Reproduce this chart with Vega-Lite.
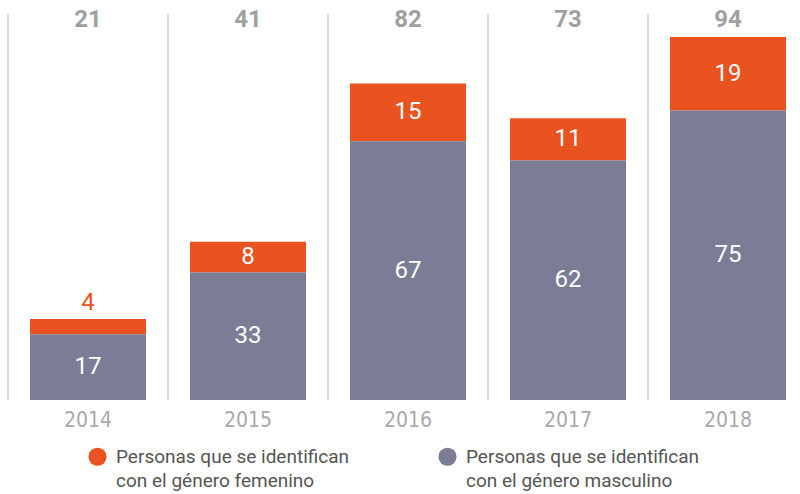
{
  "$schema": "https://vega.github.io/schema/vega-lite/v6.json",
  "width": 800,
  "height": 400,
  "autosize": "none",
  "padding": {"left": 8, "top": 0, "right": 0, "bottom": 94},
  "background": "white",
  "config": {"view": {"stroke": null}},
  "data": {
    "values": [
      {"year": "2014", "genero": "femenino", "n": 4},
      {"year": "2014", "genero": "masculino", "n": 17},
      {"year": "2015", "genero": "femenino", "n": 8},
      {"year": "2015", "genero": "masculino", "n": 33},
      {"year": "2016", "genero": "femenino", "n": 15},
      {"year": "2016", "genero": "masculino", "n": 67},
      {"year": "2017", "genero": "femenino", "n": 11},
      {"year": "2017", "genero": "masculino", "n": 62},
      {"year": "2018", "genero": "femenino", "n": 19},
      {"year": "2018", "genero": "masculino", "n": 75}
    ]
  },
  "transform": [
    {"stack": "n", "groupby": ["year"], "sort": [{"field": "genero", "order": "descending"}], "as": ["s0", "s1"]},
    {"calculate": "(datum.s0 + datum.s1) / 2", "as": "mid"}
  ],
  "encoding": {
    "x": {
      "field": "year", "type": "ordinal",
      "scale": {"paddingInner": 0, "paddingOuter": 0},
      "axis": {
        "title": null, "domain": false, "ticks": false, "labelAngle": 0,
        "labelPadding": 9, "labelFont": "DejaVu Sans Condensed, Liberation Sans Narrow, sans-serif",
        "labelFontSize": 21, "labelColor": "#aaaaaa", "labelBaseline": "top"
      }
    }
  },
  "layer": [
    {
      "transform": [{"filter": "datum.genero == 'femenino'"}],
      "mark": {"type": "rule", "color": "#b5b5b5", "strokeWidth": 1},
      "encoding": {
        "x": {"field": "year", "type": "ordinal", "bandPosition": 0},
        "y": {"datum": 0, "type": "quantitative", "scale": {"domain": [0, 103.6], "nice": false}, "axis": null},
        "y2": {"datum": 100}
      }
    },
    {
      "mark": {"type": "bar", "width": {"band": 0.725}},
      "encoding": {
        "y": {"field": "s0", "type": "quantitative", "scale": {"domain": [0, 103.6], "nice": false}, "axis": null},
        "y2": {"field": "s1"},
        "color": {
          "field": "genero", "type": "nominal",
          "scale": {"domain": ["femenino", "masculino"], "range": ["#e8531f", "#7b7c96"]},
          "legend": {
            "title": null, "orient": "none", "legendX": 80, "legendY": 447,
            "direction": "horizontal", "columns": 2, "columnPadding": 88,
            "symbolType": "circle", "symbolSize": 330, "symbolStrokeWidth": 0,
            "symbolOpacity": 1, "labelOffset": 9,
            "labelFont": "Roboto", "labelFontSize": 19, "labelColor": "#555555",
            "labelLimit": 400, "labelBaseline": "alphabetic",
            "labelExpr": "datum.label == 'femenino' ? ['Personas que se identifican', 'con el género femenino'] : ['Personas que se identifican', 'con el género masculino']",
            "encode": {"labels": {"update": {"dy": {"value": 6}, "lineHeight": {"value": 24}}}}
          }
        }
      }
    },
    {
      "transform": [{"filter": "datum.n >= 5"}],
      "mark": {"type": "text", "color": "white", "font": "Roboto", "fontSize": 24, "baseline": "middle"},
      "encoding": {
        "y": {"field": "mid", "type": "quantitative"},
        "text": {"field": "n", "type": "quantitative"}
      }
    },
    {
      "transform": [{"filter": "datum.n < 5"}],
      "mark": {"type": "text", "color": "#e8531f", "font": "Roboto", "fontSize": 24, "baseline": "middle", "dy": -16},
      "encoding": {
        "y": {"field": "s1", "type": "quantitative"},
        "text": {"field": "n", "type": "quantitative"}
      }
    },
    {
      "mark": {"type": "text", "color": "#a0a0a0", "font": "Roboto", "fontWeight": "bold", "fontSize": 24, "baseline": "middle"},
      "encoding": {
        "y": {"datum": 98.4, "type": "quantitative"},
        "text": {"aggregate": "sum", "field": "n", "type": "quantitative"}
      }
    }
  ]
}
